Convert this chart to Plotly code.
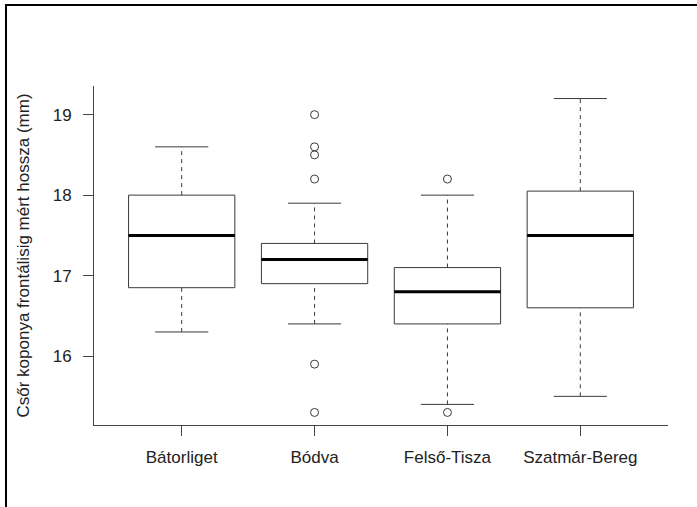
import plotly.graph_objects as go

categories = ["Bátorliget", "Bódva", "Felső-Tisza", "Szatmár-Bereg"]
lower_whisker = [16.3, 16.4, 15.4, 15.5]
q1 = [16.85, 16.9, 16.4, 16.6]
median = [17.5, 17.2, 16.8, 17.5]
q3 = [18.0, 17.4, 17.1, 18.05]
upper_whisker = [18.6, 17.9, 18.0, 19.2]
outliers = [[], [19.0, 18.6, 18.5, 18.2, 15.9, 15.3], [18.2, 15.3], []]
y_ticks = [16, 17, 18, 19]
y_title = "Csőr koponya frontálisig mért hossza (mm)"

BOXW = 0.4    # half box width
CAPW = 0.2    # half cap width
LINE = "#3a3a3a"
FONT = "Liberation Sans, Arial, sans-serif"

positions = list(range(1, len(categories) + 1))

box_x, box_y = [], []
med_x, med_y = [], []
wh_x, wh_y = [], []
cap_x, cap_y = [], []
out_x, out_y = [], []
for p, lo, a, m, b, hi, outs in zip(positions, lower_whisker, q1, median, q3, upper_whisker, outliers):
    box_x += [p - BOXW, p + BOXW, p + BOXW, p - BOXW, p - BOXW, None]
    box_y += [a, a, b, b, a, None]
    med_x += [p - BOXW, p + BOXW, None]
    med_y += [m, m, None]
    wh_x += [p, p, None, p, p, None]
    wh_y += [b, hi, None, lo, a, None]
    cap_x += [p - CAPW, p + CAPW, None, p - CAPW, p + CAPW, None]
    cap_y += [hi, hi, None, lo, lo, None]
    out_x += [p] * len(outs)
    out_y += outs

fig = go.Figure()
fig.add_trace(go.Scatter(x=wh_x, y=wh_y, mode="lines",
                         line=dict(color=LINE, width=1, dash="4px,4px"), hoverinfo="skip"))
fig.add_trace(go.Scatter(x=cap_x, y=cap_y, mode="lines",
                         line=dict(color=LINE, width=1), hoverinfo="skip"))
fig.add_trace(go.Scatter(x=box_x, y=box_y, mode="lines",
                         line=dict(color=LINE, width=1), hoverinfo="skip"))
fig.add_trace(go.Scatter(x=med_x, y=med_y, mode="lines",
                         line=dict(color="black", width=3), hoverinfo="skip"))
fig.add_trace(go.Scatter(x=out_x, y=out_y, mode="markers",
                         marker=dict(symbol="circle-open", size=8, color=LINE, line=dict(width=1)),
                         hoverinfo="skip"))

W, H = 697, 507
L, R, T, B = 94, 29, 86, 82
pw, ph = W - L - R, H - T - B

def px_to_paper_x(px):
    return (px - L) / pw

def px_to_paper_y(py):
    return (H - B - py) / ph

fig.update_layout(
    width=W, height=H,
    margin=dict(l=L, r=R, t=T, b=B, pad=0),
    paper_bgcolor="white", plot_bgcolor="white",
    showlegend=False,
    font=dict(family=FONT, size=17, color="#222"),
    xaxis=dict(range=[0.34, 4.66], tickvals=positions, ticktext=categories,
               showgrid=False, zeroline=False, showline=True, linecolor="#444", linewidth=1,
               ticks="outside", ticklen=10, tickcolor="#444", ticklabelstandoff=7),
    yaxis=dict(range=[15.144, 19.356], tickvals=y_ticks,
               showgrid=False, zeroline=False, showline=True, linecolor="#444", linewidth=1,
               ticks="outside", ticklen=10, tickcolor="#444", ticklabelstandoff=8),
    shapes=[dict(type="rect", xref="paper", yref="paper",
                 x0=px_to_paper_x(6), x1=px_to_paper_x(760),
                 y0=px_to_paper_y(5), y1=px_to_paper_y(560),
                 line=dict(color="black", width=2), fillcolor="rgba(0,0,0,0)")],
    annotations=[dict(text=y_title, xref="paper", yref="paper",
                      x=px_to_paper_x(23), y=0.5, textangle=-90, showarrow=False,
                      xanchor="center", yanchor="middle",
                      font=dict(family=FONT, size=17, color="#222"))],
)

fig.write_html("out.html")
